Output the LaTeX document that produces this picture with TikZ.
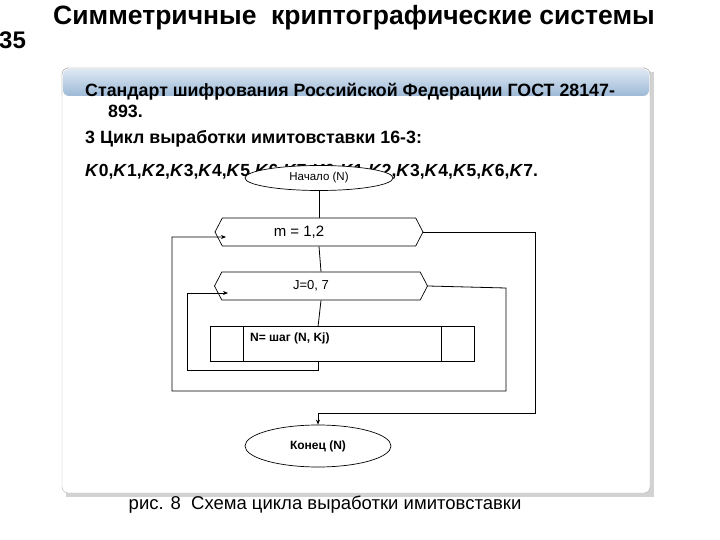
\documentclass[tikz,border=0pt]{standalone}
\usepackage{fontspec}
\setmainfont{Liberation Sans}
\usetikzlibrary{shapes.geometric,shapes.symbols,arrows.meta}
\definecolor{hdrtop}{HTML}{DDE8F3}
\definecolor{hdrbot}{HTML}{9DB9D6}
\tikzset{
  ln/.style={line width=0.8pt,black},
  arr/.style={ln,-{Stealth[length=5pt,width=4pt]}},
  hexa/.style={draw,line width=0.7pt,signal,signal to=east and west,signal pointer angle=125,minimum height=28pt,inner sep=0pt,font=\fontsize{15}{15}\selectfont},
  elli/.style={draw,line width=0.7pt,ellipse,fill=white,inner sep=0pt},
  body/.style={anchor=west,font=\bfseries\fontsize{17.8}{18}\selectfont,inner sep=0pt}
}
\begin{document}
\begin{tikzpicture}[x=1pt,y=-1pt]
\useasboundingbox (0,0) rectangle (720,540);
\fill[white] (0,0) rectangle (720,540);
% panel
\fill[gray!35] (66,72) rectangle (654,497);
\draw[gray!60,fill=white,rounded corners=6pt] (62,68) rectangle (650,493);
\shade[top color=hdrtop,bottom color=hdrbot,rounded corners=6pt] (63,69) -- (63,96) -- (649,96) -- (649,69) -- cycle;
\draw[gray!60,rounded corners=6pt] (62,96) -- (62,68) -- (650,68) -- (650,96);
% titles
\node[font=\bfseries\fontsize{26.5}{26}\selectfont,inner sep=0pt] (title) at (354,18) {Симметричные\ \ криптографические системы};
\node[font=\bfseries\fontsize{24}{24}\selectfont,inner sep=0pt,anchor=west] (num) at (-1,40) {35};
\node[body] (t1) at (85,92) {Стандарт шифрования Российской Федерации ГОСТ 28147-};
\node[body] (t2) at (108,111) {893.};
\node[body] (t3) at (85,139) {3 Цикл выработки имитовставки 16-3:};
\node[body,font=\bfseries\fontsize{17.5}{18}\selectfont] (t4) at (85,172) {\textit{K}0,\textit{K}1,\textit{K}2,\textit{K}3,\textit{K}4,\textit{K}5,\textit{K}6,\textit{K}7,\textit{K}0,\textit{K}1,\textit{K}2,\textit{K}3,\textit{K}4,\textit{K}5,\textit{K}6,\textit{K}7.};
% flowchart
\node[elli,minimum width=148pt,minimum height=25pt,font=\fontsize{11.5}{11}\selectfont] (start) at (319,178) {Начало (N)};
\node[hexa,minimum width=208pt] (m) at (319,232) {\hspace*{-40pt}m = 1,2};
\node[hexa,minimum width=213pt,font=\fontsize{13}{13}\selectfont] (j) at (321,286) {\hspace*{-20pt}J=0, 7};
\node[draw,line width=0.7pt,minimum width=264pt,minimum height=35pt,inner sep=0pt] (box) at (342,344) {};
\draw[line width=0.7pt] (243,327) -- (243,361) (441,327) -- (441,361);
\node[font=\bfseries\fontsize{12}{12}\selectfont,anchor=west,inner sep=0pt] (boxt) at (250,338) {N= шаг (N, Kj)};
\node[elli,minimum width=146pt,minimum height=42pt,font=\bfseries\fontsize{12}{12}\selectfont] (end) at (318,446) {Конец (N)};
\draw[ln] (start.south) -- (m.north);
\draw[ln] (m.south) -- (j.north);
\draw[ln] (j.south) -- (318,327);
% inner loop
\coordinate (c1) at (318,362);
\draw[arr] (c1) -- (318,370) -- (187,370) -- (187,293) -- (228,293);
% J exit back to m
\draw[arr] (j.east) -- (506,288) -- (506,391) -- (172,391) -- (172,237) -- (226,237);
% m exit to end
\draw[arr] (m.east) -- (535,232) -- (535,413) -- (318,413) -- (end.north);
\node[font=\fontsize{18.5}{18}\selectfont,inner sep=0pt] (cap) at (325,505) {рис. 8\ \ Схема цикла выработки имитовставки};
\end{tikzpicture}
\end{document}
